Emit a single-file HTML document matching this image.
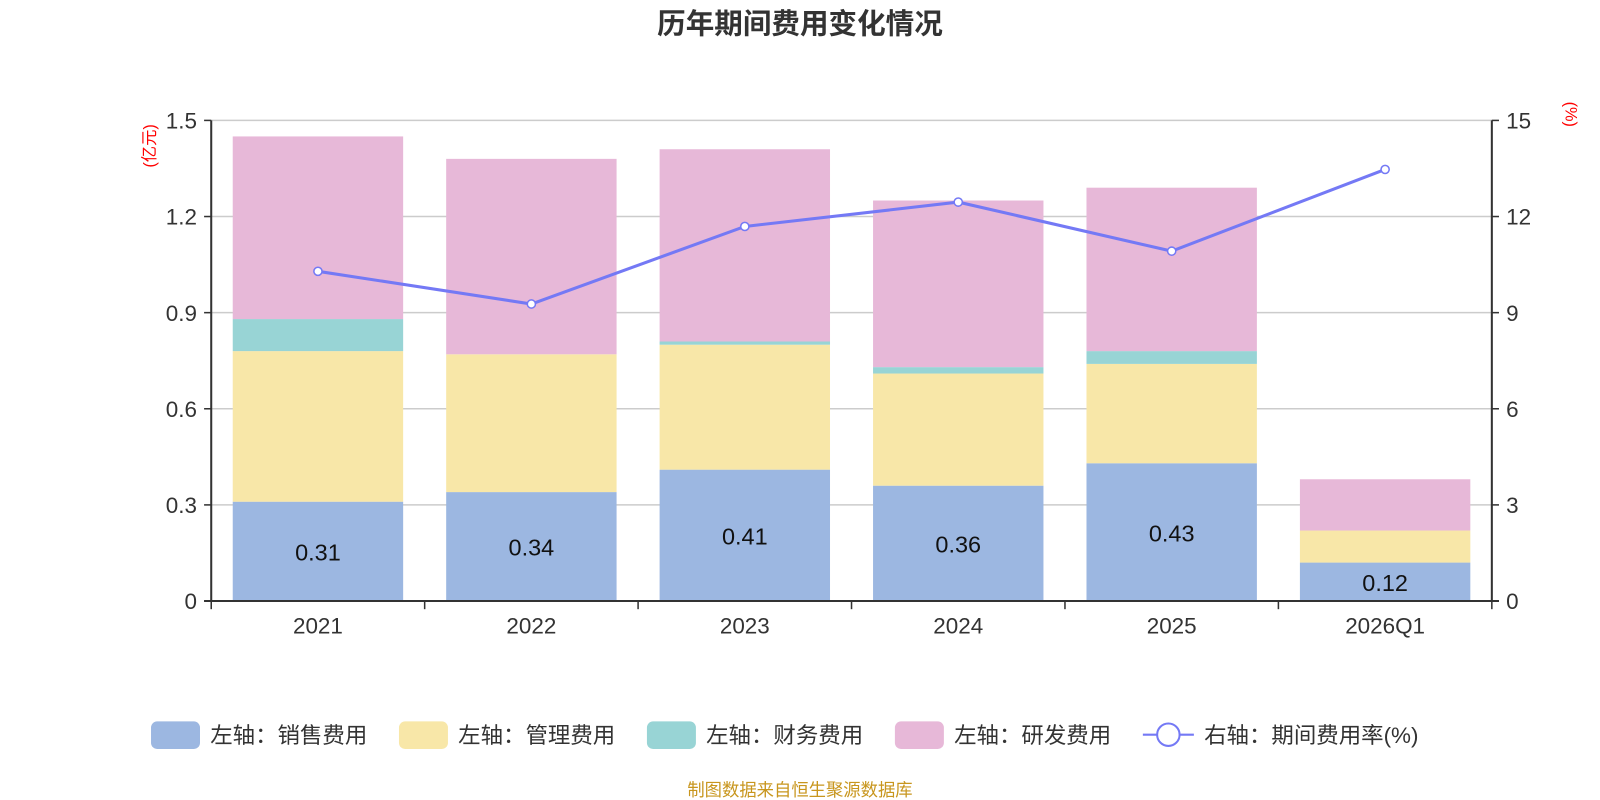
<!DOCTYPE html>
<html><head><meta charset="utf-8"><style>
html,body{margin:0;padding:0;background:#fff;width:1600px;height:800px;overflow:hidden}
svg text{font-family:"Liberation Sans","Noto Sans CJK SC",sans-serif}
</style></head><body>
<svg id="chart" width="1600" height="800" viewBox="0 0 1568 784" xmlns="http://www.w3.org/2000/svg">
<text x="784" y="33" text-anchor="middle" font-size="28" font-weight="bold" fill="#333">历年期间费用变化情况</text>
<text transform="translate(152,143) rotate(-90)" text-anchor="middle" font-size="16" fill="#f00">(亿元)</text>
<text transform="translate(1534,112) rotate(90)" text-anchor="middle" font-size="16" fill="#f00">(%)</text>
<g id="grid"></g><g id="bars"></g><g id="axes"></g><g id="line"></g>
<g font-size="22" fill="#333">
<rect x="148" y="707" width="48" height="27" rx="6" fill="#9cb7e1"/><text x="206" y="728">左轴：销售费用</text>
<rect x="391" y="707" width="48" height="27" rx="6" fill="#f8e7a8"/><text x="449" y="728">左轴：管理费用</text>
<rect x="634" y="707" width="48" height="27" rx="6" fill="#98d4d5"/><text x="692" y="728">左轴：财务费用</text>
<rect x="877" y="707" width="48" height="27" rx="6" fill="#e7b8d8"/><text x="935" y="728">左轴：研发费用</text>
<line x1="1120" y1="720" x2="1170" y2="720" stroke="#7479f5" stroke-width="2"/><circle cx="1145" cy="720" r="11" fill="#fff" stroke="#7479f5" stroke-width="2"/><text x="1180" y="728">右轴：期间费用率(%)</text>
</g>
<text x="784" y="780" text-anchor="middle" font-size="17" fill="#c8961e">制图数据来自恒生聚源数据库</text>
</svg>
<script>
const categories=["2021","2022","2023","2024","2025","2026Q1"];
const sales=[0.31,0.34,0.41,0.36,0.43,0.12];
const admin=[0.47,0.43,0.39,0.35,0.31,0.10];
const finance=[0.10,0.00,0.01,0.02,0.04,0.00];
const rd=[0.57,0.61,0.60,0.52,0.51,0.16];
const rate=[10.29,9.27,11.69,12.45,10.92,13.47];
const leftTicks=[0,0.3,0.6,0.9,1.2,1.5];
const rightTicks=[0,3,6,9,12,15];
const salesLabels=["0.31","0.34","0.41","0.36","0.43","0.12"];

const NS="http://www.w3.org/2000/svg";
const X0=207,X1=1462,Y0=589,Y1=118;
const bw=(X1-X0)/categories.length, barW=167;
const yL=v=>Y0-(v/1.5)*(Y0-Y1);
const yR=v=>Y0-(v/15)*(Y0-Y1);
const xC=i=>X0+bw*(i+0.5);
function mk(tag,attrs,parent,text){const e=document.createElementNS(NS,tag);for(const k in attrs)e.setAttribute(k,attrs[k]);if(text!=null)e.textContent=text;parent.appendChild(e);return e;}
const grid=document.getElementById('grid'),bars=document.getElementById('bars'),axes=document.getElementById('axes'),line=document.getElementById('line');
leftTicks.forEach((t,i)=>{
  const y=yL(t);
  if(i>0){const g=mk('line',{x1:X0,x2:X1,y1:y,y2:y,stroke:'#ccc','stroke-width':1.5},grid);
  
  }
  const tk=mk('line',{x1:X0-7,x2:X0,y1:y,y2:y,stroke:'#333','stroke-width':1.5},axes);
  
  
  const tl=mk('text',{x:X0-14,y:y+8,'text-anchor':'end','font-size':22,fill:'#333'},axes,String(t));
  
  
});
rightTicks.forEach(t=>{
  const y=yR(t);
  const tk=mk('line',{x1:X1,x2:X1+7,y1:y,y2:y,stroke:'#333','stroke-width':1.5},axes);
  
  
  const tl=mk('text',{x:X1+14,y:y+8,'font-size':22,fill:'#333'},axes,String(t));
  
  
});
const series=[[sales,'#9cb7e1','sales'],[admin,'#f8e7a8','admin'],[finance,'#98d4d5','finance'],[rd,'#e7b8d8','rd']];
categories.forEach((c,i)=>{
  let base=0;
  series.forEach(([arr,col,nm])=>{
    const v=arr[i];
    if(v>0){const r=mk('rect',{x:xC(i)-barW/2,y:yL(base+v),width:barW,height:yL(base)-yL(base+v),fill:col},bars);
    
    }
    base+=v;
  });
  const lb=mk('text',{x:xC(i),y:(yL(0)+yL(sales[i]))/2+9,'text-anchor':'middle','font-size':23,fill:'#111'},bars,salesLabels[i]);
  
  
  const cl=mk('text',{x:xC(i),y:Y0+32,'text-anchor':'middle','font-size':22,fill:'#333'},axes,c);
  
  
});
for(let i=0;i<=categories.length;i++){
  const x=X0+bw*i;
  const tk=mk('line',{x1:x,x2:x,y1:Y0,y2:Y0+8,stroke:'#333','stroke-width':1.5},axes);
  
  
}
const ax=mk('line',{x1:X0-7,x2:X1+7,y1:Y0,y2:Y0,stroke:'#333','stroke-width':2},axes);


const la=mk('line',{x1:X0,x2:X0,y1:Y1,y2:Y0,stroke:'#333','stroke-width':2},axes);


const ra=mk('line',{x1:X1,x2:X1,y1:Y1,y2:Y0,stroke:'#333','stroke-width':2},axes);


const pts=rate.map((v,i)=>xC(i)+','+yR(v)).join(' ');
const pl=mk('polyline',{points:pts,fill:'none',stroke:'#7479f5','stroke-width':3},line);


rate.forEach((v,i)=>{
  const p=mk('circle',{cx:xC(i),cy:yR(v),r:4,fill:'#fff',stroke:'#7479f5','stroke-width':1.5},line);
  
  
});
</script>
</body></html>
